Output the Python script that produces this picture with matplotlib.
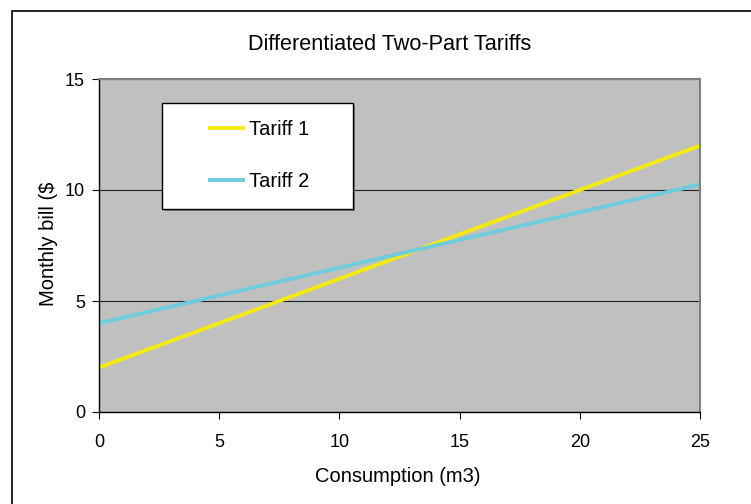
import matplotlib
matplotlib.use('Agg')
import matplotlib.pyplot as plt
from matplotlib.patches import Rectangle

plt.rcParams['font.family'] = ['Liberation Sans', 'DejaVu Sans']

# Monthly bill under each tariff, by consumption in m3
consumption = [0, 1, 2, 3, 4, 5, 6, 7, 8, 9, 10, 11, 12,
               13, 14, 15, 16, 17, 18, 19, 20, 21, 22, 23, 24, 25]
tariff_1 = [2.0, 2.4, 2.8, 3.2, 3.6, 4.0, 4.4, 4.8, 5.2, 5.6, 6.0, 6.4, 6.8,
            7.2, 7.6, 8.0, 8.4, 8.8, 9.2, 9.6, 10.0, 10.4, 10.8, 11.2, 11.6, 12.0]
tariff_2 = [4.0, 4.25, 4.5, 4.75, 5.0, 5.25, 5.5, 5.75, 6.0, 6.25, 6.5, 6.75, 7.0,
            7.25, 7.5, 7.75, 8.0, 8.25, 8.5, 8.75, 9.0, 9.25, 9.5, 9.75, 10.0, 10.25]
x_ticks = [0, 5, 10, 15, 20, 25]
y_ticks = [0, 5, 10, 15]

W, H = 751, 504
fig = plt.figure(figsize=(W / 100, H / 100), dpi=100)
fig.patch.set_facecolor('white')

# chart frame (runs off the right and bottom edges)
fig.patches.append(Rectangle((12 / W, -0.01), 1.0, 1 - 11 / H + 0.01,
                             transform=fig.transFigure, fill=False,
                             edgecolor='black', linewidth=1.2))

# plot area: x 99..700 px, y 79..412 px
ax = fig.add_axes([99 / W, (H - 412) / H, 601 / W, 333 / H])
ax.set_facecolor('#C0C0C0')

ax.plot(consumption, tariff_1, color='#F4EA12', linewidth=2.8, label='Tariff 1',
        solid_capstyle='butt', clip_on=False)
ax.plot(consumption, tariff_2, color='#6ECCDC', linewidth=2.8, label='Tariff 2',
        solid_capstyle='butt', clip_on=False)

ax.set_xlim(0, 25)
ax.set_ylim(0, 15)
ax.set_xticks(x_ticks)
ax.set_yticks(y_ticks)
ax.grid(axis='y', color='#202020', linewidth=0.8)
ax.set_axisbelow(True)

for side in ['top', 'right']:
    ax.spines[side].set_color('#808080')
    ax.spines[side].set_linewidth(1.5)
for side in ['left', 'bottom']:
    ax.spines[side].set_color('black')
    ax.spines[side].set_linewidth(1.0)

ax.tick_params(axis='x', direction='out', length=5, pad=11, labelsize=13)
ax.tick_params(axis='y', direction='out', length=5, pad=5, labelsize=13)

fig.text(390 / W, 1 - 45 / H, 'Differentiated Two-Part Tariffs',
         fontsize=15.6, ha='center', va='center')
fig.text(398 / W, 1 - 477 / H, 'Consumption (m3)',
         fontsize=14.5, ha='center', va='center')
fig.text(48 / W, 1 - 244 / H, 'Monthly bill ($',
         fontsize=14.5, ha='center', va='center', rotation=90)

# legend box with a small drop shadow
px, py = 1 / 601, 1 / 333
ax.add_patch(Rectangle(((162 - 99 + 2) * px, (412 - 209 - 2) * py), 191 * px, 106 * py,
                       transform=ax.transAxes, facecolor='#808080',
                       edgecolor='none', zorder=4.4))
ax.add_patch(Rectangle(((162 - 99) * px, (412 - 209) * py), 191 * px, 106 * py,
                       transform=ax.transAxes, facecolor='white',
                       edgecolor='black', linewidth=1.0, zorder=4.5))
leg = ax.legend(loc='center left', bbox_to_anchor=((208 - 99) * px, (412 - 155.5) * py),
                fontsize=14.5, frameon=False, borderpad=0, borderaxespad=0,
                labelspacing=1.62, handlelength=1.85, handletextpad=0.2)
leg.set_zorder(5)

plt.savefig('out.png', dpi=100)
